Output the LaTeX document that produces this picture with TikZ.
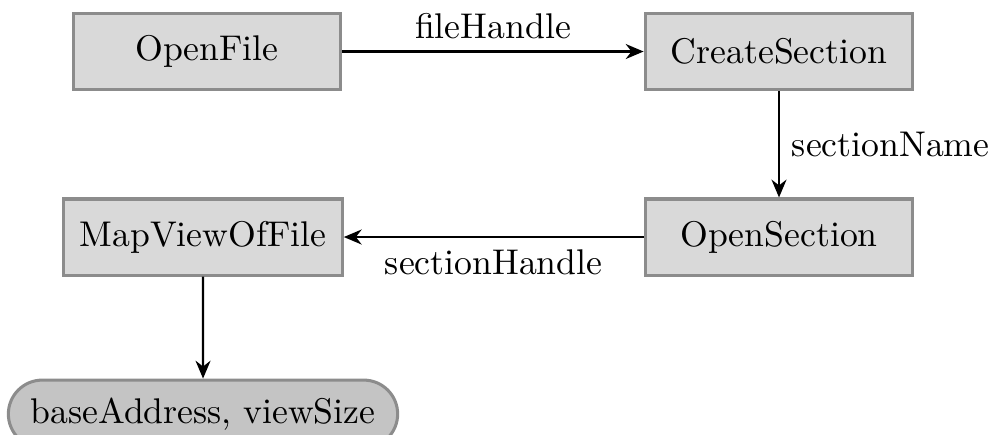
\documentclass[tikz,border=0pt]{standalone}
\usetikzlibrary{arrows.meta,shapes.misc}
\begin{document}
\begin{tikzpicture}[x=0.28pt,y=-0.28pt,
  procbox/.style={draw=black!45,line width=0.85pt,fill=black!15,minimum height=21.3pt,inner sep=2pt},
  pill/.style={rounded rectangle,draw=black!45,line width=0.85pt,fill=black!23,minimum height=19pt,minimum width=113pt,inner sep=2pt},
  flow/.style={-{Stealth[length=5pt,width=4.2pt]},line width=0.6pt}]
\useasboundingbox (0,0) rectangle (998,434);
\node[procbox,minimum width=75pt] (of) at (207,51.5) {OpenFile};
\node[procbox,minimum width=75pt] (cs) at (779,51.5) {CreateSection};
\node[procbox,minimum width=75pt] (os) at (779,237) {OpenSection};
\node[procbox,minimum width=78pt] (mv) at (203,237) {MapViewOfFile};
\node[pill] (ba) at (203,414) {baseAddress, viewSize};
\draw[flow] (of) -- node[above] {fileHandle} (cs);
\draw[flow] (cs) -- node[right] {sectionName} (os);
\draw[flow] (os) -- node[below] {sectionHandle} (mv);
\draw[flow] (mv) -- (ba);
\end{tikzpicture}
\end{document}
